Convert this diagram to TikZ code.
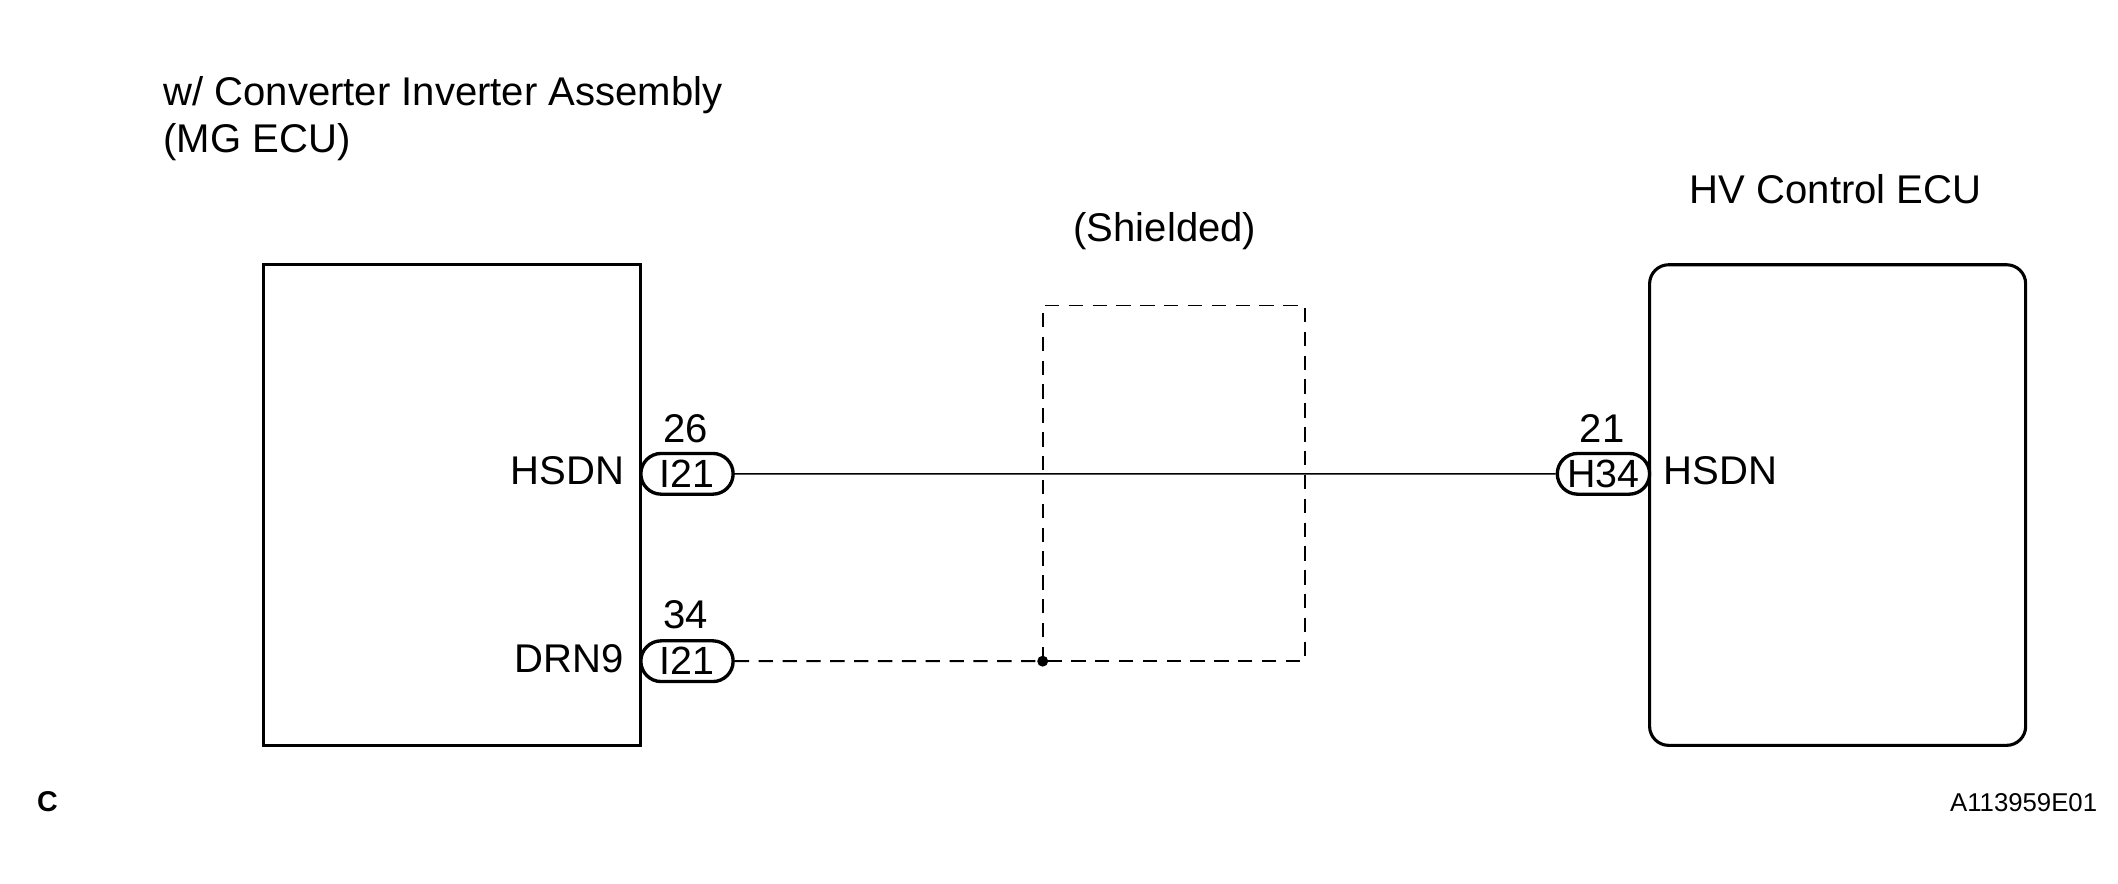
\documentclass[tikz,border=0pt]{standalone}
\usepackage{fontspec}
\setmainfont{Liberation Sans}
\usetikzlibrary{shapes.misc,positioning}
\begin{document}
\begin{tikzpicture}[x=0.02cm,y=-0.02cm,
    ecu/.style={draw,line width=1.3pt},
    conn/.style={draw,line width=1.4pt,rounded rectangle,minimum width=1.36cm,minimum height=0.6cm,inner sep=0pt,font=\fontsize{16.5}{19}\selectfont},
    lbl/.style={font=\fontsize{16.8}{20}\selectfont,inner sep=0pt},
    wire/.style={line width=0.6pt},
    shield/.style={dashed,line width=0.8pt,dash pattern=on 6pt off 4pt}]
  \useasboundingbox (0,0) rectangle (1560,651);

  % ECUs
  \draw[ecu] (194,195) rectangle (472,549);
  \draw[ecu,rounded corners=8pt] (1215,195) rectangle (1492,549);
  \node[lbl,anchor=base west] (mgecu) at (120,78) {w/ Converter Inverter Assembly};
  \node[lbl,anchor=base west] (mgecub) at (120,112) {(MG ECU)};
  \node[lbl,anchor=base] (hvecu) at (1352,150) {HV Control ECU};

  % Connectors
  \node[conn] (i21a) at (506,349) {I21};
  \node[conn] (i21b) at (506,487) {I21};
  \node[conn] (h34) at (1181,349) {H34};
  \node[lbl,anchor=base] at (505,326) {26};
  \node[lbl,anchor=base] at (505,463) {34};
  \node[lbl,anchor=base] at (1180,326) {21};
  \node[lbl,anchor=base east] at (460,357) {HSDN};
  \node[lbl,anchor=base east] at (460,495) {DRN9};
  \node[lbl,anchor=base west] at (1225,357) {HSDN};

  % Shield
  \node[lbl,anchor=base] (shld) at (858,178) {(Shielded)};
  \coordinate (gnd) at (768,487);
  \draw[shield] (gnd) -- (768,225) -- (961,225) -- (961,487) -- (gnd);
  \draw[shield] (i21b) -- (gnd);
  \fill (gnd) circle[radius=2.3pt];

  % Wire
  \draw[wire] (i21a) -- (h34);

  \node[font=\bfseries\fontsize{12}{14}\selectfont,anchor=base west,inner sep=0pt] at (27,598) {C};
  \node[font=\fontsize{10.8}{13}\selectfont,anchor=base east,inner sep=0pt] at (1545,598) {A113959E01};
\end{tikzpicture}
\end{document}
